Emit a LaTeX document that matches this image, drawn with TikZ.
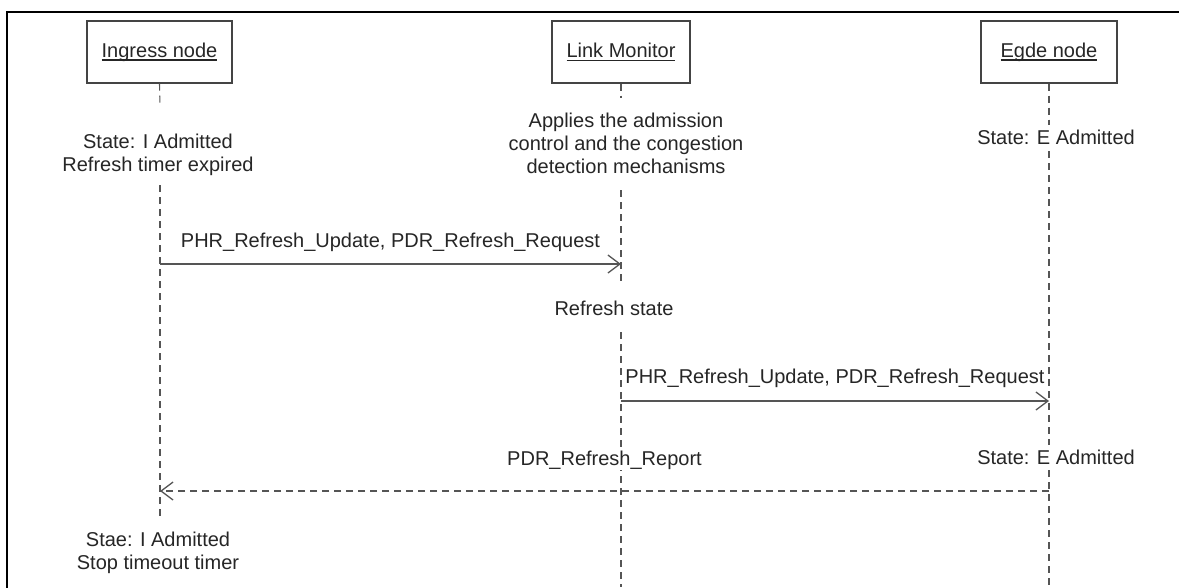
\documentclass[tikz,border=0pt]{standalone}
\usepackage{fontspec}
\setmainfont{Liberation Sans}
\usetikzlibrary{arrows.meta}
\definecolor{txt}{HTML}{262626}
\definecolor{boxc}{HTML}{444444}
\definecolor{linec}{HTML}{555555}
% underlined participant name with a heavier rule
\newcommand\ulname[1]{\setbox0\hbox{#1}\rlap{\raisebox{-3.5pt}{\color{txt}\rule{\wd0}{1.3pt}}}\box0}
\begin{document}
\begin{tikzpicture}[x=1pt,y=-1pt,
  every node/.style={font=\fontsize{20pt}{23pt}\selectfont, text=txt},
  head/.style={draw=boxc, line width=1.3pt, minimum height=62pt, inner sep=0pt},
  life/.style={draw=linec, line width=1.1pt, dash pattern=on 7pt off 5pt},
  msg/.style={draw=linec, line width=1.3pt, -{Straight Barb[length=12pt,width=18pt,line width=1.3pt]}},
  reply/.style={msg, dash pattern=on 7pt off 5pt},
  note/.style={align=center, inner sep=1pt, fill=white},
  lbl/.style={inner sep=1pt, fill=white}
]
\useasboundingbox (0,0) rectangle (1179,587);
\fill[white] (0,0) rectangle (1179,587);
% outer frame
\draw[line width=2.5pt, line join=miter] (7,590) -- (7,12) -- (1182,12);

% participants
\node[head, minimum width=145pt] (ing) at (159.5,52) {\ulname{Ingress node}};
\node[head, minimum width=138pt] (lm)  at (621,52)   {\ulname{Link Monitor}};
\node[head, minimum width=136pt] (eg)  at (1049,52)  {\ulname{Egde node}};

% lifeline segments
\coordinate (i1) at (160,105);
\coordinate (i2) at (160,185);
\coordinate (i3) at (160,518);
\coordinate (l1) at (621,98);
\coordinate (l2) at (621,190);
\coordinate (l3) at (621,285);
\coordinate (l4) at (621,332);
\coordinate (l5) at (621,587);
\coordinate (e1) at (1049,125);
\coordinate (e2) at (1049,151);
\coordinate (e3) at (1049,445);
\coordinate (e4) at (1049,470);
\coordinate (e5) at (1049,587);
\draw[life] (ing.south) -- (i1);
\draw[life] (i2) -- (i3);
\draw[life] (lm.south) -- (l1);
\draw[life] (l2) -- (l3);
\draw[life] (l4) -- (l5);
\draw[life] (eg.south) -- (e1);
\draw[life] (e2) -- (e3);
\draw[life] (e4) -- (e5);

% notes on the lifelines
\node[note] (ingA) at (158,155) {State: I Admitted\\Refresh timer expired};
\node[note] (lmA)  at (626,143) {Applies the admission\\control and the congestion\\detection mechanisms};
\node[note] (egA)  at (1056,137) {State: E Admitted};
\node[note] (lmR)  at (614,308) {Refresh state};
\node[note] (egB)  at (1056,457) {State: E Admitted};
\node[note] (ingB) at (158,553) {Stae: I Admitted\\Stop timeout timer};

% messages
\coordinate (m1s) at (160,264);
\coordinate (m1e) at (621,264);
\coordinate (m2s) at (621,401);
\coordinate (m2e) at (1049,401);
\coordinate (m3s) at (1049,491);
\coordinate (m3e) at (160,491);
\draw[msg] (m1s) -- node[lbl, above=11pt] {PHR\_Refresh\_Update, PDR\_Refresh\_Request} (m1e);
\draw[msg] (m2s) -- node[inner sep=0pt, above=13pt] {PHR\_Refresh\_Update, PDR\_Refresh\_Request} (m2e);
\draw[reply] (m3s) -- node[lbl, above=20pt] {PDR\_Refresh\_Report} (m3e);
\end{tikzpicture}
\end{document}
